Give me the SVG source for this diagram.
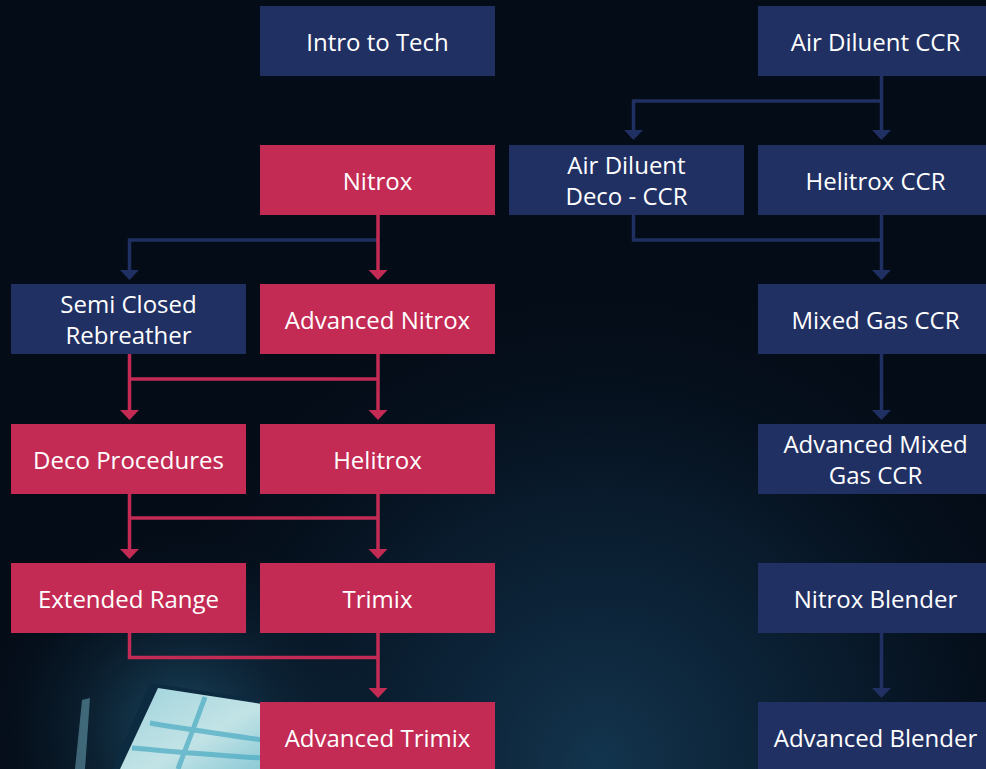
<svg xmlns="http://www.w3.org/2000/svg" width="986" height="769" viewBox="0 0 986 769">
<defs>
<style>
.red{fill:#C32B55}
.blue{fill:#213063}
.lr{stroke:#C32B55;stroke-width:3.5;fill:none}
.lb{stroke:#213063;stroke-width:3.5;fill:none}
.ar{fill:#C32B55}
.ab{fill:#213063}
text{font-family:"Open Sans","Noto Sans","DejaVu Sans",sans-serif;font-size:24px;fill:#ffffff;text-anchor:middle}
</style>
<radialGradient id="glow" cx="600" cy="760" r="480" gradientUnits="userSpaceOnUse">
<stop offset="0" stop-color="#173f5c" stop-opacity="0.8"/>
<stop offset="0.55" stop-color="#0e2a42" stop-opacity="0.5"/>
<stop offset="1" stop-color="#061322" stop-opacity="0"/>
</radialGradient>
<radialGradient id="glow2" cx="180" cy="730" r="200" gradientUnits="userSpaceOnUse">
<stop offset="0" stop-color="#2a6f92" stop-opacity="0.6"/>
<stop offset="1" stop-color="#0b2236" stop-opacity="0"/>
</radialGradient>
<linearGradient id="win" x1="0" y1="0" x2="1" y2="1">
<stop offset="0" stop-color="#9fd3dc"/>
<stop offset="0.6" stop-color="#c2e3e6"/>
<stop offset="1" stop-color="#8ccad6"/>
</linearGradient>
</defs>
<g id="background">
<rect width="986" height="769" fill="#040c17"/>
<rect width="986" height="769" fill="url(#glow)"/>
<rect width="986" height="769" fill="url(#glow2)"/>
<polygon points="150,683 262,700 262,769 112,769" fill="#0c2a40"/>
<polygon points="158,688 262,704 262,769 120,769" fill="url(#win)"/>
<path d="M150,723 C190,730 230,735 262,740 M205,697 C195,725 185,750 178,769 M132,748 C180,752 225,756 262,758" stroke="#48a9c2" stroke-width="5" fill="none" opacity="0.7"/>
<polygon points="82,700 90,698 85,769 75,769" fill="#7fc0d2" opacity="0.45"/>
</g>
<g id="connectors">
<polyline class="lb" points="378,240 129.5,240 129.5,271"/>
<polygon class="ab" points="120,270 139,270 129.5,280"/>
<line class="lr" x1="378" y1="214" x2="378" y2="271"/>
<polygon class="ar" points="368.5,270 387.5,270 378,280"/>
<line class="lr" x1="129.5" y1="353" x2="129.5" y2="411"/>
<line class="lr" x1="378" y1="353" x2="378" y2="411"/>
<line class="lr" x1="129.5" y1="379" x2="378" y2="379"/>
<polygon class="ar" points="120,410 139,410 129.5,420"/>
<polygon class="ar" points="368.5,410 387.5,410 378,420"/>
<line class="lr" x1="129.5" y1="493" x2="129.5" y2="550"/>
<line class="lr" x1="378" y1="493" x2="378" y2="550"/>
<line class="lr" x1="129.5" y1="518" x2="378" y2="518"/>
<polygon class="ar" points="120,549 139,549 129.5,559"/>
<polygon class="ar" points="368.5,549 387.5,549 378,559"/>
<polyline class="lr" points="129.5,632 129.5,657.5 378,657.5"/>
<line class="lr" x1="378" y1="632" x2="378" y2="689"/>
<polygon class="ar" points="368.5,688 387.5,688 378,698"/>
<line class="lb" x1="881.5" y1="75" x2="881.5" y2="131"/>
<polyline class="lb" points="881.5,101 633.5,101 633.5,131"/>
<polygon class="ab" points="624,130 643,130 633.5,140"/>
<polygon class="ab" points="872,130 891,130 881.5,140"/>
<polyline class="lb" points="633.5,214 633.5,240 881.5,240"/>
<line class="lb" x1="881.5" y1="214" x2="881.5" y2="271"/>
<polygon class="ab" points="872,270 891,270 881.5,280"/>
<line class="lb" x1="881.5" y1="353" x2="881.5" y2="411"/>
<polygon class="ab" points="872,410 891,410 881.5,420"/>
<line class="lb" x1="881.5" y1="632" x2="881.5" y2="689"/>
<polygon class="ab" points="872,688 891,688 881.5,698"/>
</g>
<g id="intro-to-tech"><rect class="blue" x="260" y="6" width="235" height="70"/><text x="377.5" y="50.5">Intro to Tech</text></g>
<g id="air-diluent-ccr"><rect class="blue" x="758" y="6" width="235" height="70"/><text x="875.5" y="50.5">Air Diluent CCR</text></g>
<g id="nitrox"><rect class="red" x="260" y="145" width="235" height="70"/><text x="377.5" y="189.5">Nitrox</text></g>
<g id="air-diluent-deco-ccr"><rect class="blue" x="509" y="145" width="235" height="70"/><text x="626.5" y="174">Air Diluent</text><text x="626.5" y="205">Deco - CCR</text></g>
<g id="helitrox-ccr"><rect class="blue" x="758" y="145" width="235" height="70"/><text x="875.5" y="189.5">Helitrox CCR</text></g>
<g id="semi-closed-rebreather"><rect class="blue" x="11" y="284" width="235" height="70"/><text x="128.5" y="313">Semi Closed</text><text x="128.5" y="344">Rebreather</text></g>
<g id="advanced-nitrox"><rect class="red" x="260" y="284" width="235" height="70"/><text x="377.5" y="328.5">Advanced Nitrox</text></g>
<g id="mixed-gas-ccr"><rect class="blue" x="758" y="284" width="235" height="70"/><text x="875.5" y="328.5">Mixed Gas CCR</text></g>
<g id="deco-procedures"><rect class="red" x="11" y="424" width="235" height="70"/><text x="128.5" y="468.5">Deco Procedures</text></g>
<g id="helitrox"><rect class="red" x="260" y="424" width="235" height="70"/><text x="377.5" y="468.5">Helitrox</text></g>
<g id="advanced-mixed-gas-ccr"><rect class="blue" x="758" y="424" width="235" height="70"/><text x="875.5" y="453">Advanced Mixed</text><text x="875.5" y="484">Gas CCR</text></g>
<g id="extended-range"><rect class="red" x="11" y="563" width="235" height="70"/><text x="128.5" y="607.5">Extended Range</text></g>
<g id="trimix"><rect class="red" x="260" y="563" width="235" height="70"/><text x="377.5" y="607.5">Trimix</text></g>
<g id="nitrox-blender"><rect class="blue" x="758" y="563" width="235" height="70"/><text x="875.5" y="607.5">Nitrox Blender</text></g>
<g id="advanced-trimix"><rect class="red" x="260" y="702" width="235" height="70"/><text x="377.5" y="746.5">Advanced Trimix</text></g>
<g id="advanced-blender"><rect class="blue" x="758" y="702" width="235" height="70"/><text x="875.5" y="746.5">Advanced Blender</text></g>
</svg>
